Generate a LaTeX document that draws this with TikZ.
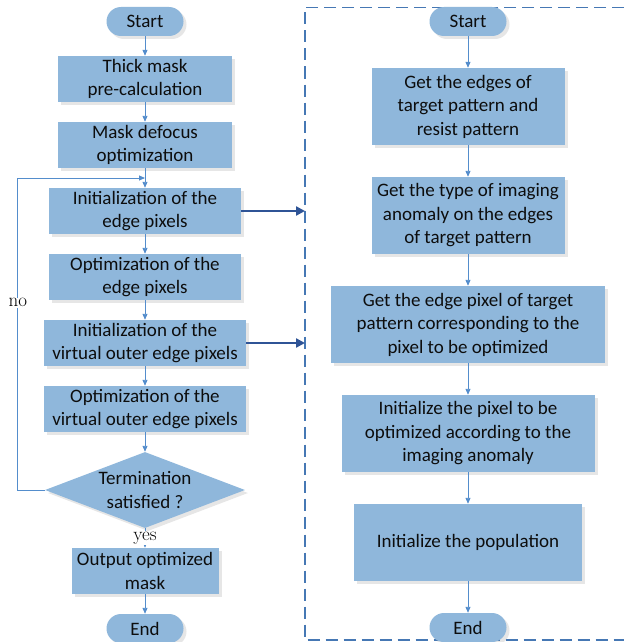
\documentclass[tikz,border=0pt]{standalone}
\usepackage{fontspec}
\setsansfont{Carlito}
\usetikzlibrary{arrows.meta,positioning,calc,shapes.geometric,shadows}
\definecolor{boxblue}{RGB}{143,183,219}
\definecolor{linkblue}{RGB}{84,141,204}
\definecolor{jumpblue}{RGB}{47,84,150}
\definecolor{framblue}{RGB}{70,120,180}

\begin{document}
\begin{tikzpicture}[x=1pt,y=1pt,
  font=\sffamily\fontsize{19}{23.5}\selectfont,
  box/.style={draw=none,fill=boxblue,align=center,text=black!95,
    minimum height=46pt,inner sep=2pt,
    drop shadow={shadow xshift=3pt,shadow yshift=-3pt,opacity=0.2}},
  tallbox/.style={box,minimum height=77pt},
  pill/.style={box,rounded corners=14.5pt,minimum width=77pt,minimum height=29pt},
  decide/.style={box,diamond,shape aspect=2.63,inner sep=-2pt,
    minimum width=200pt,minimum height=76pt},
  lbl/.style={font=\rmfamily\fontsize{19}{19}\selectfont,fill=white,inner sep=1pt},
  arr/.style={-{Triangle[length=6pt,width=5pt]},draw=linkblue,line width=0.9pt},
  bigarr/.style={-{Triangle[length=9pt,width=9pt]},draw=jumpblue,line width=2.4pt}]

  \useasboundingbox (0,0) rectangle (624,-642);

  % main loop
  \node[pill] (start1) at (145,-21.5) {Start};
  \node[box,minimum width=174pt,below=19.6pt of start1] (thick)
    {Thick mask\\pre-calculation};
  \node[box,minimum width=174pt,below=19.6pt of thick] (defocus)
    {Mask defocus\\optimization};
  \node[box,minimum width=192pt,below=19.6pt of defocus] (initedge)
    {Initialization of the\\edge pixels};
  \node[box,minimum width=192pt,below=19.6pt of initedge] (optedge)
    {Optimization of the\\edge pixels};
  \node[box,minimum width=202pt,below=19.6pt of optedge] (initvirt)
    {Initialization of the\\virtual outer edge pixels};
  \node[box,minimum width=202pt,below=19.6pt of initvirt] (optvirt)
    {Optimization of the\\virtual outer edge pixels};
  \node[decide,below=19.6pt of optvirt] (cond) {Termination\\satisfied ?};
  \node[box,minimum width=147pt,below=19.6pt of cond] (output)
    {Output optimized\\mask};
  \node[pill,below=19.6pt of output] (end1) {End};

  \coordinate (merge) at ($(defocus.south)!0.5!(initedge.north)$);
  \draw[arr] (start1) -- (thick);
  \draw[arr] (thick) -- (defocus);
  \draw[arr] (defocus) -- (initedge);
  \draw[arr] (initedge) -- (optedge);
  \draw[arr] (optedge) -- (initvirt);
  \draw[arr] (initvirt) -- (optvirt);
  \draw[arr] (optvirt) -- (cond);
  \draw[arr] (cond) -- node[lbl]{yes} (output);
  \draw[arr] (output) -- (end1);
  \draw[arr] (cond.west) -- ++(-27,0) |- node[lbl,pos=0.3]{no} (merge);

  % initialization detail
  \coordinate (frameNW) at (305,-7.5);
  \coordinate (frameSW) at (305,-640);
  \draw[framblue,line width=1.1pt,dash pattern=on 12pt off 6pt]
    (624,-7.5) -- (frameNW) -- (frameSW) -- (624,-640);

  \node[pill] (start2) at (468,-21.5) {Start};
  \node[tallbox,minimum width=193pt,below=31.6pt of start2] (edges)
    {Get the edges of\\target pattern and\\resist pattern};
  \node[tallbox,minimum width=193pt,below=31.6pt of edges] (anomaly)
    {Get the type of imaging\\anomaly on the edges\\of target pattern};
  \node[tallbox,minimum width=274pt,below=31.6pt of anomaly] (edgepix)
    {Get the edge pixel of target\\pattern corresponding to the\\pixel to be optimized};
  \node[tallbox,minimum width=253pt,below=31.6pt of edgepix] (initpix)
    {Initialize the pixel to be\\optimized according to the\\imaging anomaly};
  \node[tallbox,minimum width=228pt,below=31.6pt of initpix] (popul)
    {Initialize the population};
  \node[pill,below=31.6pt of popul] (end2) {End};

  \draw[arr] (start2) -- (edges);
  \draw[arr] (edges) -- (anomaly);
  \draw[arr] (anomaly) -- (edgepix);
  \draw[arr] (edgepix) -- (initpix);
  \draw[arr] (initpix) -- (popul);
  \draw[arr] (popul) -- (end2);

  \draw[bigarr] (initedge.east) -- (initedge.east -| frameNW);
  \draw[bigarr] (initvirt.east) -- (initvirt.east -| frameNW);

\end{tikzpicture}
\end{document}
